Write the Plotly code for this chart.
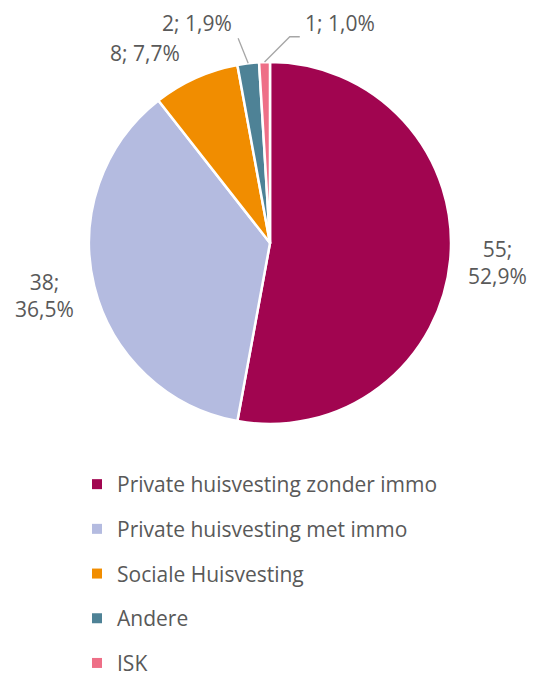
import math
import plotly.graph_objects as go

# ---- data ----
categories = ["Private huisvesting zonder immo", "Private huisvesting met immo",
              "Sociale Huisvesting", "Andere", "ISK"]
values = [55, 38, 8, 2, 1]
colors = ["#A10550", "#B4BBE0", "#F18D00", "#4E8296", "#EE6F87"]

W, H = 535, 675
CX, CY, R = 270, 243, 181          # pie centre / radius in px
FONT = "Open Sans"
FS = 21
TXT = "#595959"

def px(x):
    return x / W

def py(y):
    return 1 - y / H

fig = go.Figure()
fig.add_trace(go.Pie(
    labels=categories, values=values, sort=False, direction="clockwise", rotation=0,
    marker=dict(colors=colors, line=dict(color="white", width=2.5)),
    textinfo="none", hoverinfo="label+value+percent", showlegend=False,
    domain=dict(x=[px(CX - R), px(CX + R)], y=[py(CY + R), py(CY - R)]),
))

# legend via marker-only traces (one group each so the gap can be set)
for i, (c, col) in enumerate(zip(categories, colors)):
    fig.add_trace(go.Scatter(
        x=[None], y=[None], mode="markers", name=c, legendgroup=f"g{i}",
        marker=dict(symbol="square", size=10, color=col), hoverinfo="skip",
    ))

total = sum(values)
cum = 0
annotations, shapes = [], []
# per-slice label adjustments (px): leader-line end nudge, elbow, text offsets
callouts = {
    3: dict(nudge=(-7, 0), elbow=None, toff=(-4, -15), xanchor="right"),
    4: dict(nudge=(36, 0), elbow=-10, toff=(3, -14), xanchor="left"),
}
plain = {
    0: dict(rf=1.105, off=(-3, 1), br=True),
    1: dict(rf=1.105, off=(0, 5), br=True),
    2: dict(rf=1.11, off=(-6, -7), br=False),
}
for i, v in enumerate(values):
    mid = (cum + v / 2) / total
    cum += v
    th = 2 * math.pi * mid
    dx, dy = math.sin(th), -math.cos(th)
    pct = f"{100 * v / total:.1f}".replace(".", ",")
    if i in plain:
        p = plain[i]
        text = f"{v};<br>{pct}%" if p["br"] else f"{v}; {pct}%"
        ax = CX + R * p["rf"] * dx + p["off"][0]
        ay = CY + R * p["rf"] * dy + p["off"][1]
        annotations.append(dict(
            x=px(ax), y=py(ay), xref="paper", yref="paper", text=text, showarrow=False,
            xanchor="left" if dx > 0 else "right", yanchor="middle", align="center",
            font=dict(family=FONT, size=FS, color=TXT)))
    else:
        c = callouts[i]
        ex, ey = CX + R * dx, CY + R * dy
        lx = CX + R * 1.14 * dx + c["nudge"][0]
        ly = CY + R * 1.14 * dy + c["nudge"][1]
        pts = [(ex, ey)]
        if c["elbow"] is not None:
            pts.append((lx + c["elbow"], ly))
        pts.append((lx, ly))
        path = "M " + " L ".join(f"{px(a)},{py(b)}" for a, b in pts)
        shapes.append(dict(type="path", path=path, xref="paper", yref="paper",
                           line=dict(color="#A6A6A6", width=1.3)))
        annotations.append(dict(
            x=px(lx + c["toff"][0]), y=py(ly + c["toff"][1]), xref="paper", yref="paper",
            text=f"{v}; {pct}%", showarrow=False, xanchor=c["xanchor"], yanchor="middle",
            font=dict(family=FONT, size=FS, color=TXT)))

fig.update_layout(
    width=W, height=H, margin=dict(l=0, r=0, t=0, b=0, autoexpand=False),
    paper_bgcolor="white", plot_bgcolor="white",
    xaxis=dict(visible=False, range=[0, 1]), yaxis=dict(visible=False, range=[0, 1]),
    annotations=annotations, shapes=shapes,
    showlegend=True,
    legend=dict(x=px(77), y=py(464), xanchor="left", yanchor="top",
                font=dict(family=FONT, size=FS, color=TXT),
                tracegroupgap=14.4, bgcolor="rgba(0,0,0,0)"),
)

fig.write_html("out.html", config={"displayModeBar": False},
               post_script="document.body.style.margin='0px';")
